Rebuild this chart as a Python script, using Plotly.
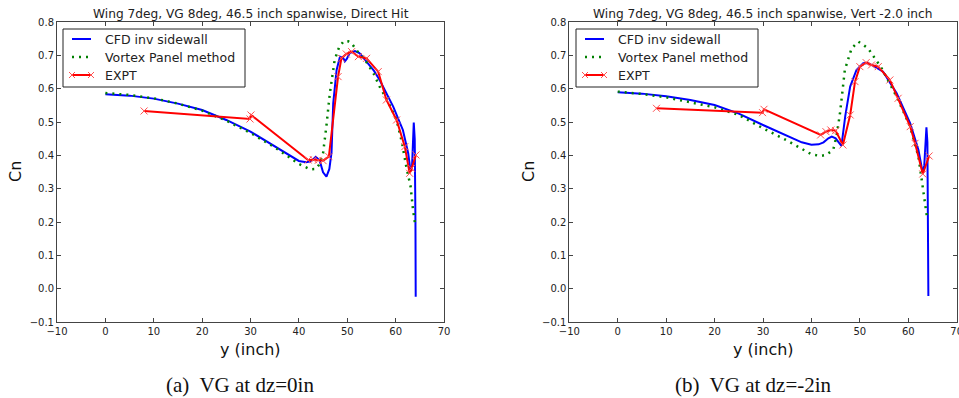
import plotly.graph_objects as go

# ---------------- data: panel (a) VG at dz=0in ----------------
a_cfd_x = [0, 5, 10, 15, 20, 25, 30, 35, 38, 40, 41.5, 42.5, 43.5, 44.3, 45, 45.7, 46.3, 46.75, 47.1, 47.8,
           48.5, 49.2, 49.5, 49.9, 50.5, 51.6, 52.5, 54.0, 55.5, 56.7, 58, 59.5, 61.5, 62.6, 63.1, 63.4,
           63.75, 63.95, 64.1, 64.15]
a_cfd_y = [0.584, 0.580, 0.571, 0.556, 0.537, 0.507, 0.472, 0.428, 0.400, 0.384, 0.380, 0.383, 0.396, 0.385,
           0.350, 0.337, 0.360, 0.410, 0.557, 0.657, 0.697, 0.692, 0.683, 0.690, 0.708, 0.714, 0.708, 0.682,
           0.655, 0.627, 0.590, 0.547, 0.477, 0.407, 0.352, 0.370, 0.499, 0.450, 0.200, -0.023]

a_vp_x = [0, 5, 10, 15, 20, 25, 30, 35, 38, 40, 42.3, 43.5, 44.3, 45.0, 45.7, 46.4, 47.4, 48.3, 49.3, 50.2,
          50.9, 52, 54, 55.5, 56.7, 58.5, 60.2, 61.3, 62.2, 63.1, 63.6, 64.0]
a_vp_y = [0.588, 0.582, 0.572, 0.556, 0.535, 0.505, 0.468, 0.425, 0.395, 0.375, 0.359, 0.360, 0.375, 0.407,
          0.490, 0.587, 0.687, 0.725, 0.744, 0.743, 0.737, 0.715, 0.680, 0.645, 0.607, 0.560, 0.507, 0.440,
          0.367, 0.307, 0.237, 0.197]

a_ex_x = [8.0, 29.9, 30.1, 41.9, 43, 44, 45, 46.2, 48.1, 48.8, 49.8, 50.9, 52.3, 54, 56.4, 58.1, 60.2, 61.9,
          62.9, 63.3, 64.2]
a_ex_y = [0.534, 0.510, 0.522, 0.387, 0.388, 0.386, 0.385, 0.397, 0.637, 0.692, 0.705, 0.712, 0.697, 0.692,
          0.652, 0.567, 0.507, 0.427, 0.347, 0.362, 0.402]

# ---------------- data: panel (b) VG at dz=-2in ----------------
b_cfd_x = [0, 5, 10, 15, 20, 25, 30, 35, 38, 40, 41.5, 42.5, 43.5, 44.2, 45, 46.2, 47, 48.0, 49.3, 50.7,
           51.6, 53, 54.8, 57.6, 60.4, 62.1, 63.0, 63.3, 63.75, 63.95, 64.1, 64.15]
b_cfd_y = [0.590, 0.586, 0.578, 0.567, 0.552, 0.526, 0.492, 0.458, 0.440, 0.433, 0.434, 0.440, 0.452, 0.457,
           0.452, 0.429, 0.520, 0.607, 0.657, 0.677, 0.678, 0.668, 0.652, 0.587, 0.497, 0.417, 0.347, 0.370,
           0.485, 0.440, 0.200, -0.021]

b_vp_x = [0, 5, 10, 15, 20, 25, 30, 35, 38, 40, 41.8, 43, 44.5, 45.2, 45.9, 46.9, 48.3, 49.7, 51.7, 54.5,
          57.6, 60.4, 62.1, 62.8, 63.4, 63.9]
b_vp_y = [0.592, 0.585, 0.575, 0.560, 0.545, 0.522, 0.482, 0.445, 0.420, 0.404, 0.399, 0.402, 0.417, 0.460,
          0.527, 0.657, 0.722, 0.742, 0.722, 0.662, 0.577, 0.487, 0.397, 0.327, 0.277, 0.212]

b_ex_x = [8.0, 29.9, 30.2, 41.9, 43, 44, 45, 46.5, 48.0, 49.0, 50.0, 51.3, 52.4, 53.8, 56.2, 57.9, 60.4,
          61.4, 63.0, 64.3]
b_ex_y = [0.542, 0.529, 0.539, 0.462, 0.472, 0.477, 0.475, 0.432, 0.522, 0.622, 0.667, 0.679, 0.672, 0.667,
          0.627, 0.572, 0.487, 0.437, 0.345, 0.399]

series_names = ["CFD inv sidewall", "Vortex Panel method", "EXPT"]
titles = ["Wing 7deg, VG 8deg, 46.5 inch spanwise, Direct Hit",
          "Wing 7deg, VG 8deg, 46.5 inch spanwise, Vert -2.0 inch"]
captions = ["(a)  VG at dz=0in", "(b)  VG at dz=-2in"]
x_label = "y (inch)"
y_label = "Cn"

W, H = 959, 398
FONT = "DejaVu Sans"
BLUE, GREEN, RED = "#0000ff", "#008000", "#ff0000"
GREEN_DASH = "2px,5px"

fig = go.Figure()

panels = [
    (a_cfd_x, a_cfd_y, a_vp_x, a_vp_y, a_ex_x, a_ex_y, "x", "y"),
    (b_cfd_x, b_cfd_y, b_vp_x, b_vp_y, b_ex_x, b_ex_y, "x2", "y2"),
]
for cx, cy, vx, vy, ex, ey, xa, ya in panels:
    fig.add_trace(go.Scatter(x=cx, y=cy, mode="lines", name=series_names[0], xaxis=xa, yaxis=ya,
                             showlegend=False, line=dict(color=BLUE, width=2)))
    fig.add_trace(go.Scatter(x=vx, y=vy, mode="lines", name=series_names[1], xaxis=xa, yaxis=ya,
                             showlegend=False, line=dict(color=GREEN, width=2.5, dash=GREEN_DASH)))
    fig.add_trace(go.Scatter(x=ex, y=ey, mode="lines+markers", name=series_names[2], xaxis=xa, yaxis=ya,
                             showlegend=False, line=dict(color=RED, width=2),
                             marker=dict(symbol="x-thin", size=7, line=dict(color="#ff5050", width=1))))

x_doms = [[57 / W, 444 / W], [569.3 / W, 956.7 / W]]
y_dom = [1 - 322.3 / H, 1 - 22.3 / H]

axis_common = dict(showline=True, linecolor="#444", linewidth=1, mirror="ticks", ticks="inside",
                   ticklen=4, tickcolor="#444", showgrid=False, zeroline=False, automargin=False,
                   tickfont=dict(family=FONT, size=10, color="#222"))

layout = dict(
    template="none",
    width=W, height=H, margin=dict(l=0, r=0, t=0, b=0, pad=0, autoexpand=False),
    paper_bgcolor="white", plot_bgcolor="white", showlegend=False,
    font=dict(family=FONT, color="#222"),
)
for i, (xa, ya) in enumerate([("xaxis", "yaxis"), ("xaxis2", "yaxis2")]):
    layout[xa] = dict(domain=x_doms[i], range=[-10, 70], tickmode="array", ticklabelstandoff=0,
                      ticklabeloverflow="allow",
                      tickvals=list(range(-10, 71, 10)), anchor="y" if i == 0 else "y2", **axis_common)
    layout[ya] = dict(domain=y_dom, range=[-0.1, 0.8], tickmode="array",
                      tickvals=[round(-0.1 + 0.1 * k, 1) for k in range(10)], tickformat=".1f",
                      anchor="x" if i == 0 else "x2", **axis_common)
fig.update_layout(**layout)


def px(xp):
    return xp / W


def py(yp):
    return 1 - yp / H


anns = []
shapes = []
legend_left = [63, 576]
for i in range(2):
    cx = (x_doms[i][0] + x_doms[i][1]) / 2
    anns.append(dict(text=titles[i], x=cx, y=py(14), xref="paper", yref="paper", showarrow=False,
                     xanchor="center", yanchor="middle", font=dict(family=FONT, size=12.2, color="#222")))
    anns.append(dict(text=x_label, x=cx, y=py(349), xref="paper", yref="paper", showarrow=False,
                     xanchor="center", yanchor="middle", font=dict(family=FONT, size=16, color="#111")))
    anns.append(dict(text=captions[i], x=px([240, 753][i]), y=py(385), xref="paper", yref="paper",
                     showarrow=False, xanchor="center", yanchor="middle",
                     font=dict(family="Liberation Serif", size=21, color="#111")))
    anns.append(dict(text=y_label, x=px([15, 528][i]), y=py(172), xref="paper", yref="paper",
                     showarrow=False, xanchor="center", yanchor="middle", textangle=-90,
                     font=dict(family=FONT, size=16, color="#111")))

    # manual legend box (matplotlib style)
    L = legend_left[i]
    shapes.append(dict(type="rect", xref="paper", yref="paper", x0=px(L), x1=px(L + 182),
                       y0=py(87), y1=py(29), line=dict(color="#222", width=1), fillcolor="white",
                       layer="above"))
    rows = [39, 57, 75]
    styles = [dict(color=BLUE, width=2), dict(color=GREEN, width=2.5, dash=GREEN_DASH),
              dict(color=RED, width=2)]
    for r, (yy, st) in enumerate(zip(rows, styles)):
        shapes.append(dict(type="line", xref="paper", yref="paper", x0=px(L + 9), x1=px(L + 28),
                           y0=py(yy), y1=py(yy), line=st, layer="above"))
        anns.append(dict(text=series_names[r], x=px(L + 40), y=py(yy), xref="paper", yref="paper",
                         showarrow=False, xanchor="left", yanchor="middle",
                         font=dict(family=FONT, size=12.5, color="#222")))
    for mxp in (L + 9, L + 28):
        d = 3
        path = (f"M {px(mxp - d)} {py(75 - d)} L {px(mxp + d)} {py(75 + d)} "
                f"M {px(mxp - d)} {py(75 + d)} L {px(mxp + d)} {py(75 - d)}")
        shapes.append(dict(type="path", xref="paper", yref="paper", path=path,
                           line=dict(color="#ff5050", width=1), layer="above"))

fig.update_layout(annotations=anns, shapes=shapes)

fig.write_html("out.html")
